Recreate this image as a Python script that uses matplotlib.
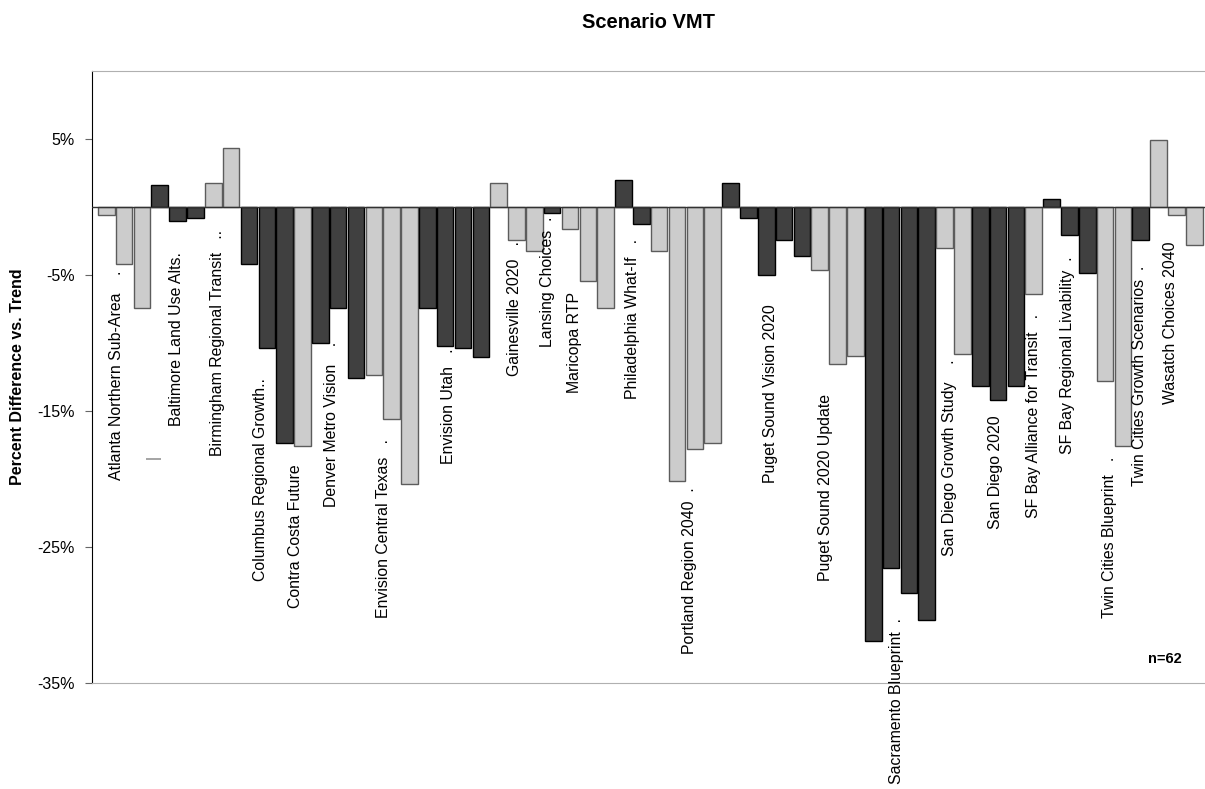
import numpy as np
import matplotlib
matplotlib.use('Agg')
import matplotlib.pyplot as plt

plt.rcParams['font.family'] = ['Liberation Sans', 'DejaVu Sans']

# percent difference vs. trend, one value per scenario (n=62)
vmt = [-0.6, -4.2, -7.4, 1.6, -1.05, -0.83, 1.74, 4.36, -4.19, -10.39,
       -17.38, -17.57, -10.02, -7.43, -12.6, -12.38, -15.59, -20.37, -7.43, -10.22,
       -10.39, -11.0, 1.74, -2.43, -3.24, -0.44, -1.64, -5.44, -7.43, 1.99,
       -1.23, -3.24, -20.17, -17.82, -17.38, 1.74, -0.83, -5.02, -2.43, -3.63,
       -4.63, -11.57, -10.96, -31.9, -26.52, -28.36, -30.35, -3.04, -10.83, -13.16,
       -14.19, -13.16, -6.42, 0.57, -2.04, -4.83, -12.79, -17.57, -2.45, 4.95,
       -0.61, -2.82]
# shade of each bar: L = light, D = dark
shade = list('LLLDDDLLDDDLDDDLLLDDDDLLLDLLLDDLLLLDDDDDLLLDDDDLLDDDLDDDLLDLLL')

study_names = ['Atlanta Northern Sub-Area    .', '|', 'Baltimore Land Use Alts.',
               'Birmingham Regional Transit   ..', 'Columbus Regional Growth..',
               'Contra Costa Future', 'Denver Metro Vision    .',
               'Envision Central Texas   .', 'Envision Utah   .', 'Gainesville 2020   .',
               'Lansing Choices  .', 'Maricopa RTP', 'Philadelphia What-If   .',
               'Portland Region 2040  .', 'Puget Sound Vision 2020',
               'Puget Sound 2020 Update', 'Sacramento Blueprint  .',
               'San Diego Growth Study    .', 'San Diego 2020',
               'SF Bay Alliance for Transit   .', 'SF Bay Regional Livability  .',
               'Twin Cities Blueprint   .', 'Twin Cities Growth Scenarios  .',
               'Wasatch Choices 2040']
# where each name starts (bottom of rotated text), in bar units / percent
name_x = [0.58, 2.62, 3.94, 6.26, 8.62, 10.63, 12.60, 15.57, 19.21, 22.91,
          24.76, 26.27, 29.53, 32.72, 37.26, 40.34, 44.32, 47.29, 49.87, 52.0,
          53.91, 56.26, 57.94, 59.68]
name_y = [-20.07, -18.5, -16.10, -18.31, -27.50, -29.49, -22.06, -30.22, -18.90, -12.43,
          -10.29, -13.68, -14.12, -32.87, -20.29, -27.50, -42.43, -25.66, -23.68, -22.87,
          -18.16, -30.22, -20.51, -14.49]

colors = {'L': '#cccccc', 'D': '#404040'}
edges = {'L': '#5c5c5c', 'D': '#000000'}

fig = plt.figure(figsize=(12.05, 7.89), dpi=100)
ax = fig.add_axes([92 / 1205, 1 - 683 / 789, 1113 / 1205, 612 / 789])

x = np.arange(len(vmt))
ax.bar(x, vmt, width=0.93, color=[colors[s] for s in shade],
       edgecolor=[edges[s] for s in shade], linewidth=1.0, zorder=2)
ax.axhline(0, color='#333333', linewidth=1.0, zorder=3)

for name, nx, ny in zip(study_names, name_x, name_y):
    c = '#707070' if name == '|' else 'black'
    ax.text(nx, ny, name, rotation=90, ha='center', va='bottom',
            fontsize=11.4, color=c, clip_on=False)

ax.text(59.35, -33.2, 'n=62', ha='center', va='center', fontsize=10.5,
        fontweight='bold')

ax.set_xlim(-0.8, 61.6)
ax.set_ylim(-35, 10)
ax.set_yticks([5, -5, -15, -25, -35])
ax.set_yticklabels(['5%', '-5%', '-15%', '-25%', '-35%'], fontsize=11.5)
ax.set_xticks([])
ax.tick_params(axis='y', direction='out', length=5, color='#666666', pad=7.5)

ax.spines['right'].set_visible(False)
ax.spines['top'].set_color('#b0b0b0')
ax.spines['bottom'].set_color('#b0b0b0')
ax.spines['left'].set_color('black')

fig.text(648.5 / 1205, 1 - 22 / 789, 'Scenario VMT', ha='center', va='center',
         fontsize=14.5, fontweight='bold')
fig.text(18 / 1205, 1 - 377 / 789, 'Percent Difference vs. Trend', rotation=90,
         ha='center', va='center', fontsize=11.5, fontweight='bold')

fig.savefig('out.png', dpi=100)
